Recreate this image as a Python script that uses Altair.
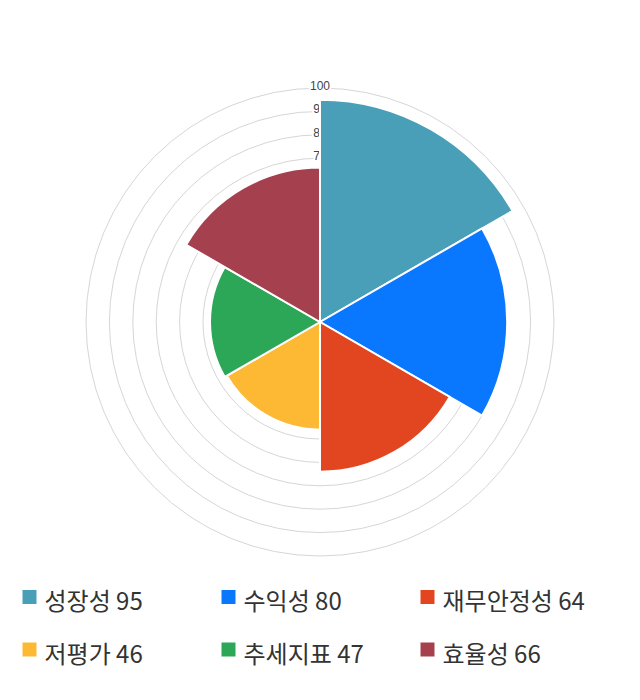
import altair as alt
import pandas as pd

categories = ["성장성", "수익성", "재무안정성", "저평가", "추세지표", "효율성"]
values = [95, 80, 64, 46, 47, 66]
colors = ["#4a9fb8", "#0a77ff", "#e24620", "#fdb933", "#2ca657", "#a5404e"]
grid_ticks = [10, 20, 30, 40, 50, 60, 70, 80, 90, 100]
legend_cols = [0, 1, 2, 0, 1, 2]
legend_rows = [0, 0, 0, 1, 1, 1]

n = len(categories)
slices = pd.DataFrame({
    "cat": categories,
    "value": values,
    "t0": list(range(n)),
    "t1": [i + 1 for i in range(n)],
})
grid = pd.DataFrame({"g": grid_ticks, "lab": [str(t) for t in grid_ticks]})
leg = pd.DataFrame({
    "cat": categories,
    "label": [f"{c} {v}" for c, v in zip(categories, values)],
    "col": legend_cols,
    "row": legend_rows,
})

rscale = alt.Scale(type="linear", domain=[0, 100], range=[0, 234], zero=True)
tscale = alt.Scale(type="linear", domain=[0, n], range=[0, 6.283185307179586], zero=True)
cscale = alt.Scale(domain=categories, range=colors)

circles = alt.Chart(grid).mark_arc(filled=False, stroke="#d6d6d6", strokeWidth=1).encode(
    theta=alt.value(0),
    theta2=alt.value(6.2832),
    radius=alt.Radius("g:Q", scale=rscale, stack=None),
)

lab_bg = alt.Chart(grid).mark_text(
    font="Liberation Sans", fontSize=12, fill="white", stroke="white", strokeWidth=4,
    align="center", baseline="middle", dy=-2,
).encode(
    theta=alt.value(0),
    radius=alt.Radius("g:Q", scale=rscale, stack=None),
    text="lab:N",
)
lab = alt.Chart(grid).mark_text(
    font="Liberation Sans", fontSize=12, color="#444444",
    align="center", baseline="middle", dy=-2,
).encode(
    theta=alt.value(0),
    radius=alt.Radius("g:Q", scale=rscale, stack=None),
    text="lab:N",
)

arcs = alt.Chart(slices).mark_arc(stroke="white", strokeWidth=2).encode(
    theta=alt.Theta("t0:Q", scale=tscale, stack=None),
    theta2="t1:Q",
    radius=alt.Radius("value:Q", scale=rscale, stack=None),
    color=alt.Color("cat:N", scale=cscale, legend=None),
)

xs = alt.Scale(domain=[0, 2], range=[21.5, 419.5])
ys = alt.Scale(domain=[0, 1], range=[589, 641.5])

leg_sq = alt.Chart(leg).mark_square(size=196, opacity=1).encode(
    x=alt.X("col:Q", scale=xs, axis=None),
    y=alt.Y("row:Q", scale=ys, axis=None),
    color=alt.Color("cat:N", scale=cscale, legend=None),
)
leg_tx = alt.Chart(leg).mark_text(
    font="Noto Sans CJK KR", fontSize=24, color="#333333",
    align="left", baseline="middle", dx=15, dy=6,
).encode(
    x=alt.X("col:Q", scale=xs, axis=None),
    y=alt.Y("row:Q", scale=ys, axis=None),
    text="label:N",
)

chart = alt.layer(circles, lab_bg, lab, arcs, leg_sq, leg_tx).properties(
    width=624, height=628, padding=0
).configure_view(stroke=None)

chart.save("out.html", embed_options={"renderer": "svg", "actions": False})
